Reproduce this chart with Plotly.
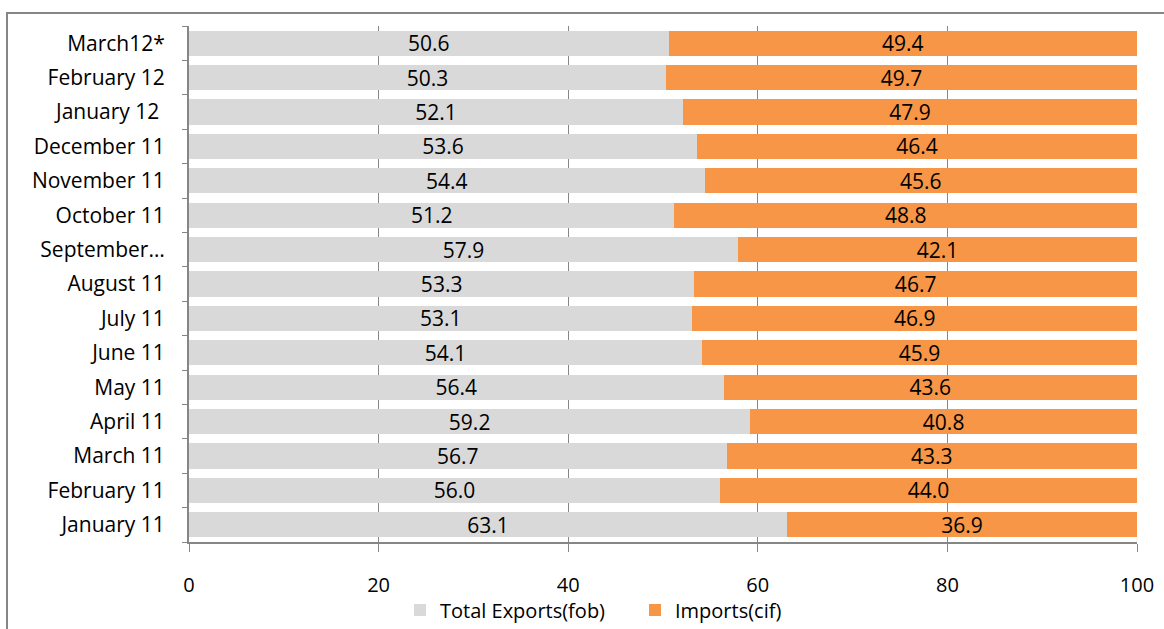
import plotly.graph_objects as go

categories = ["January 11", "February 11", "March 11", "April 11", "May 11", "June 11",
              "July 11", "August 11", "September…", "October 11", "November 11",
              "December 11", "January 12 ", "February 12", "March12*"]
exports = [63.1, 56.0, 56.7, 59.2, 56.4, 54.1, 53.1, 53.3, 57.9, 51.2, 54.4, 53.6, 52.1, 50.3, 50.6]
imports = [36.9, 44.0, 43.3, 40.8, 43.6, 45.9, 46.9, 46.7, 42.1, 48.8, 45.6, 46.4, 47.9, 49.7, 49.4]
x_ticks = [0, 20, 40, 60, 80, 100]

FONT = "Open Sans"

fig = go.Figure()
fig.add_trace(go.Bar(
    y=categories, x=exports, orientation="h", name="Total Exports(fob)",
    marker=dict(color="#D9D9D9", line=dict(width=0)),
    text=[f"{v:.1f}" for v in exports], textposition="inside", constraintext="none",
    insidetextanchor="middle", textfont=dict(color="black", size=21, family=FONT),
    hoverinfo="skip",
))
fig.add_trace(go.Bar(
    y=categories, x=imports, orientation="h", name="Imports(cif)",
    marker=dict(color="#F79646", line=dict(width=0)),
    text=[f"{v:.1f}" for v in imports], textposition="inside", constraintext="none",
    insidetextanchor="middle", textfont=dict(color="black", size=21, family=FONT),
    hoverinfo="skip",
))

fig.update_layout(
    barmode="stack",
    bargap=0.27,
    width=1164, height=629,
    margin=dict(l=189, r=27, t=26, b=87, autoexpand=False),
    plot_bgcolor="white", paper_bgcolor="white",
    font=dict(family=FONT, size=21, color="black"),
    legend=dict(orientation="h", x=(400 - 189) / 948, xanchor="left",
                yref="container", y=1 - 610 / 629, yanchor="middle",
                font=dict(size=20, family=FONT), traceorder="normal",
                itemwidth=30, entrywidth=190, entrywidthmode="pixels",
                bgcolor="rgba(0,0,0,0)"),
    xaxis=dict(range=[0, 100], tickvals=x_ticks, showgrid=True, gridcolor="#868686",
               gridwidth=1, zeroline=False, showline=True, linecolor="#868686", linewidth=2,
               ticks="outside", ticklen=8, tickcolor="#868686", tickwidth=1,
               ticklabelstandoff=16, tickfont=dict(size=20)),
    yaxis=dict(type="category", categoryorder="array", categoryarray=categories,
               showline=True, linecolor="#868686", linewidth=2,
               ticks="outside", ticklen=5, tickcolor="#868686", tickson="boundaries",
               ticklabelstandoff=18, showgrid=False, tickfont=dict(size=21)),
    shapes=[dict(type="rect", xref="paper", yref="paper",
                 x0=(7 - 189) / 948, x1=(1175 - 189) / 948,
                 y0=(542 - 640) / 516, y1=(542 - 13) / 516,
                 line=dict(color="#868686", width=2), layer="below")],
)

fig.write_html("out.html")
